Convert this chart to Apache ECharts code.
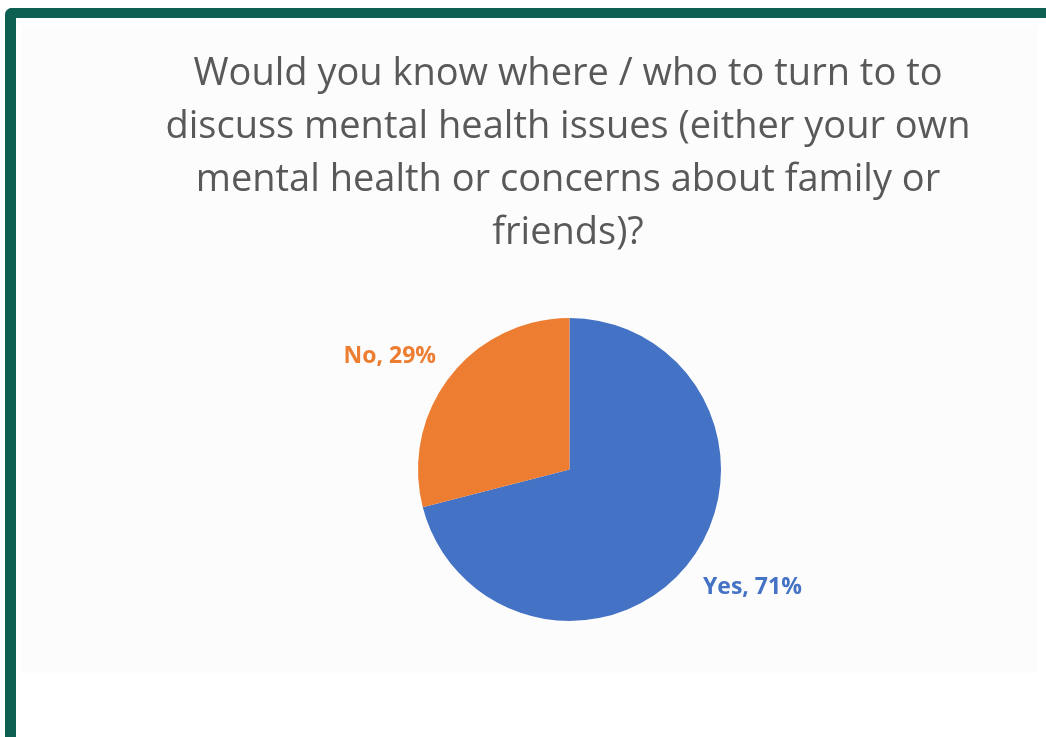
<!DOCTYPE html>
<html><head><meta charset="utf-8">
<script src="https://cdn.jsdelivr.net/npm/echarts@6/dist/echarts.min.js"></script>
<style>
html,body{margin:0;padding:0;background:#fff;width:1046px;height:737px;overflow:hidden;}
#frame{position:absolute;left:5px;top:8px;width:1060px;height:760px;border-top:10px solid #0d5f52;border-left:11px solid #0d5f52;border-top-left-radius:7px;box-sizing:border-box;background:#fff;}
#chart{position:absolute;left:0;top:0;width:1046px;height:737px;}
#panel{position:absolute;left:21px;top:25px;width:1016px;height:648px;background:#fcfcfc;}
</style></head>
<body>
<div id="frame"></div>
<div id="panel"></div>
<div id="chart"></div>
<script>
const titleLines = [
  "Would you know where / who to turn to to",
  "discuss mental health issues (either your own",
  "mental health or concerns about family or",
  "friends)?"
];
const categories = ["Yes", "No"];
const values = [71, 29];
const colors = ["#4472C4", "#ED7D31"];
const labelShift = [[-16, 10], [16, -5]];

const chart = echarts.init(document.getElementById('chart'), null, {renderer:'canvas'});
chart.setOption({
  backgroundColor: 'transparent',
  animation: false,
  title: {
    text: titleLines.join('\n'),
    left: 563, top: 43, textAlign: 'center',
    textStyle: {fontFamily: 'Open Sans', fontSize: 38, fontWeight: 'normal', color: '#595959', lineHeight: 53}
  },
  series: [{
    type: 'pie',
    center: [569.5, 469.5],
    radius: [0, 151.5],
    startAngle: 90,
    clockwise: true,
    data: categories.map((c, i) => ({name: c, value: values[i], itemStyle: {color: colors[i]},
      label: {color: colors[i]}})),
    label: {
      show: true, position: 'outside',
      formatter: p => p.name + ', ' + p.value + '%',
      fontFamily: 'Open Sans', fontSize: 23, fontWeight: 'bold'
    },
    labelLine: {show: false, length: 25, length2: 5},
    labelLayout: p => ({dx: labelShift[p.dataIndex][0], dy: labelShift[p.dataIndex][1]}),
    itemStyle: {borderWidth: 0}
  }]
});
</script>
</body></html>
